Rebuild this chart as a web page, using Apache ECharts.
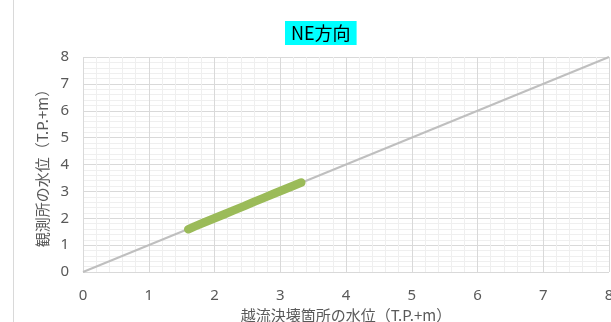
<!DOCTYPE html>
<html><head><meta charset="utf-8">
<script src="https://cdn.jsdelivr.net/npm/echarts@6/dist/echarts.min.js"></script>
<style>html,body{margin:0;padding:0;background:#fff}#c{width:611px;height:322px}</style>
</head><body><div id="c"></div>
<script>
const titleText = 'NE方向';
const xName = '越流決壊箇所の水位（T.P.+m）';
const yName = '観測所の水位（T.P.+m）';
const refX = [0, 8];
const refY = [0, 8];
const obsX = [1.60, 1.70, 1.85, 2.00, 2.15, 2.30, 2.45, 2.60, 2.75, 2.90, 3.05, 3.20, 3.32];
const obsY = [1.59, 1.70, 1.85, 2.00, 2.15, 2.30, 2.45, 2.61, 2.76, 2.91, 3.06, 3.21, 3.33];

const chart = echarts.init(document.getElementById('c'));
const font = 'Noto Sans CJK JP';
function axis(name, isY) {
  return {
    type: 'value', min: 0, max: 8, interval: 1,
    name: name, nameLocation: 'middle', nameGap: isY ? 31 : 29,
    nameTextStyle: {color: '#595959', fontSize: 15, fontFamily: font},
    axisLine: {show: false}, axisTick: {show: false},
    axisLabel: {color: '#595959', fontSize: 15, fontFamily: 'Noto Sans', margin: isY ? 14 : 16},
    splitLine: {show: true, lineStyle: {color: '#D9D9D9', width: 1}},
    minorTick: {show: false, splitNumber: 5},
    minorSplitLine: {show: true, lineStyle: {color: '#EFEFEF', width: 1}}
  };
}
chart.setOption({
  animation: false,
  title: {
    text: titleText, left: 285, top: 21, padding: [3, 6, 3, 6],
    backgroundColor: '#00FFFF',
    textStyle: {color: '#000', fontSize: 18, fontWeight: 'normal', fontFamily: font}
  },
  grid: {left: 83, right: 2, top: 57, bottom: 50, outerBoundsMode: 'none', containLabel: false},
  xAxis: axis(xName, false),
  yAxis: axis(yName, true),
  graphic: [{type: 'line', shape: {x1: 13.5, y1: 0, x2: 13.5, y2: 322}, style: {stroke: '#D9D9D9', lineWidth: 1}}],
  series: [
    {type: 'line', data: refX.map((x, i) => [x, refY[i]]), symbol: 'none',
     lineStyle: {color: '#BFBFBF', width: 2}},
    {type: 'line', data: obsX.map((x, i) => [x, obsY[i]]), symbol: 'none',
     lineStyle: {color: '#9BBB59', width: 8.5, cap: 'round', join: 'round'}}
  ]
});
</script></body></html>
